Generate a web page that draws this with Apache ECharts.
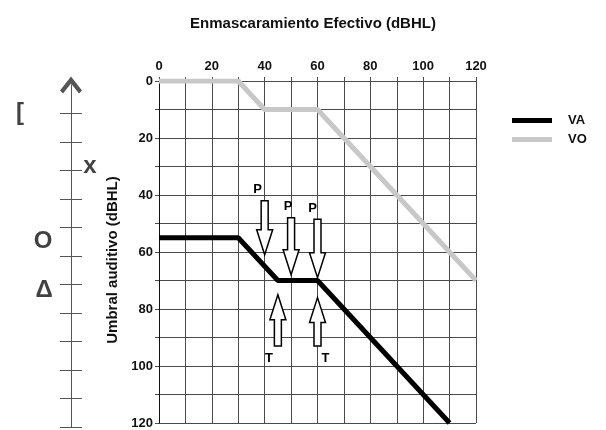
<!DOCTYPE html>
<html>
<head>
<meta charset="utf-8">
<script src="https://cdn.jsdelivr.net/npm/echarts@6/dist/echarts.min.js"></script>
<style>html,body{margin:0;padding:0;background:#fff}#c{width:606px;height:430px}</style>
</head>
<body>
<div id="c"></div>
<script>
// ---- data ----
const xTickLabels = [0, 20, 40, 60, 80, 100, 120];
const yTickLabels = [0, 20, 40, 60, 80, 100, 120];
const seriesNames = ['VA', 'VO'];
const vaMasking = [0, 30, 45, 60, 110];
const vaThreshold = [55, 55, 70, 70, 120];
const voMasking = [0, 30, 40, 60, 120];
const voThreshold = [0, 0, 10, 10, 70];
// arrows: [masking, tail level, tip level]
const arrowP = [[40, 42, 61], [50, 48, 68], [60, 48.5, 69]];
const arrowT = [[45, 93, 75], [60, 93, 76]];
// left audiometric symbol scale
const leftScaleTicks = [10, 20, 30, 40, 50, 60, 70, 80, 90, 100, 110, 120];
// [horizontal position, level, glyph]
const leftGlyphs = [[-51, 10, '['], [19, 28.5, 'x'], [-28, 55, 'O'], [-27, 72, 'Δ']];

const FONT = '"Liberation Sans", Arial, sans-serif';
const zip = (a, b) => a.map((v, i) => [v, b[i]]);
const CHEVRON = 'path://M0,14 L11,0 L22,14 L19,17 L11,7 L3,17 Z';

function arrowRenderer(letter, dxList, dy) {
  return function (params, api) {
    const x = api.value(0);
    const tail = api.coord([x, api.value(1)]);
    const tip = api.coord([x, api.value(2)]);
    const cx = tail[0];
    const dir = tip[1] > tail[1] ? 1 : -1;
    const headLen = 25, headW = 8, shaftW = 3.5;
    const base = tip[1] - dir * headLen;
    const pts = [[cx - shaftW, tail[1]], [cx + shaftW, tail[1]], [cx + shaftW, base],
      [cx + headW, base], [cx, tip[1]], [cx - headW, base], [cx - shaftW, base]];
    const dx = dxList[params.dataIndex] || 0;
    return {
      type: 'group',
      children: [
        { type: 'polygon', shape: { points: pts }, style: { fill: '#fff', stroke: '#000', lineWidth: 1.5 } },
        { type: 'text', style: { text: letter, x: cx + dx, y: tail[1] + dy, align: 'center', verticalAlign: 'middle',
          font: 'bold 13px ' + FONT, fill: '#000' } }
      ]
    };
  };
}

const chart = echarts.init(document.getElementById('c'));
chart.setOption({
  animation: false,
  backgroundColor: '#fff',
  title: {
    text: 'Enmascaramiento Efectivo (dBHL)', left: 308, textAlign: 'center', top: 11,
    textStyle: { fontFamily: FONT, fontWeight: 'bold', fontSize: 15, color: '#111' }
  },
  legend: {
    data: seriesNames, orient: 'vertical', left: 507, top: 109, itemWidth: 40, itemHeight: 5, itemGap: 6,
    icon: 'rect',
    textStyle: { fontFamily: FONT, fontWeight: 'bold', fontSize: 13, color: '#111', padding: [0, 0, 0, 11] }
  },
  grid: [
    { left: 159, right: 130, top: 81, bottom: 7 },
    { left: 0, width: 100, top: 85, bottom: 3 }
  ],
  xAxis: [
    {
      gridIndex: 0, type: 'value', position: 'top', min: 0, max: 120, interval: 10,
      axisLine: { show: true, lineStyle: { color: '#4a4a4a' } },
      axisTick: { show: true, length: 4, lineStyle: { color: '#4a4a4a' } },
      axisLabel: {
        fontFamily: FONT, fontWeight: 'bold', fontSize: 13, color: '#111', margin: 8,
        formatter: v => xTickLabels.includes(v) ? String(v) : ''
      },
      splitLine: { show: true, lineStyle: { color: '#4a4a4a', width: 1 } }
    },
    {
      gridIndex: 1, type: 'value', min: -71, max: 29, show: false
    }
  ],
  yAxis: [
    {
      gridIndex: 0, type: 'value', inverse: true, min: 0, max: 120, interval: 10,
      name: 'Umbral auditivo (dBHL)', nameLocation: 'middle', nameGap: 36, nameRotate: 90,
      nameTextStyle: { fontFamily: FONT, fontWeight: 'bold', fontSize: 15, color: '#111', padding: [0, 16, 0, 0] },
      axisLine: { show: true, lineStyle: { color: '#111' } },
      axisTick: { show: true, length: 4, lineStyle: { color: '#4a4a4a' } },
      axisLabel: {
        fontFamily: FONT, fontWeight: 'bold', fontSize: 13, color: '#111', margin: 6,
        formatter: v => yTickLabels.includes(v) ? String(v) : ''
      },
      splitLine: { show: true, lineStyle: { color: '#4a4a4a', width: 1 } }
    },
    {
      gridIndex: 1, type: 'value', inverse: true, min: 0, max: 120, interval: 10, position: 'left',
      axisLine: { show: true, onZero: true, onZeroAxisIndex: 1, lineStyle: { color: '#555', width: 1 },
        symbol: ['none', CHEVRON], symbolSize: [22, 17], symbolOffset: [0, 0] },
      axisTick: { show: true, length: 11, inside: true, customValues: leftScaleTicks, lineStyle: { color: '#555' } },
      axisLabel: { show: false }, splitLine: { show: false }
    },
    {
      gridIndex: 1, type: 'value', inverse: true, min: 0, max: 120, interval: 10, position: 'left', offset: 0,
      axisLine: { show: true, onZero: true, onZeroAxisIndex: 1, lineStyle: { color: '#555', width: 1 } },
      axisTick: { show: true, length: 11, inside: false, customValues: leftScaleTicks, lineStyle: { color: '#555' } },
      axisLabel: { show: false }, splitLine: { show: false }
    }
  ],
  series: [
    {
      name: 'VA', type: 'line', xAxisIndex: 0, yAxisIndex: 0, data: zip(vaMasking, vaThreshold),
      symbol: 'none', lineStyle: { color: '#000', width: 5 }, itemStyle: { color: '#000' }, z: 3
    },
    {
      name: 'VO', type: 'line', xAxisIndex: 0, yAxisIndex: 0, data: zip(voMasking, voThreshold),
      symbol: 'none', lineStyle: { color: '#c8c8c8', width: 5 }, itemStyle: { color: '#c8c8c8' }, z: 2
    },
    {
      type: 'custom', xAxisIndex: 0, yAxisIndex: 0, data: arrowP, z: 5,
      renderItem: arrowRenderer('P', [-7, -3, -5], -11)
    },
    {
      type: 'custom', xAxisIndex: 0, yAxisIndex: 0, data: arrowT, z: 5,
      renderItem: arrowRenderer('T', [-9, 8], 12)
    },
    {
      type: 'scatter', xAxisIndex: 1, yAxisIndex: 1, data: leftGlyphs, symbolSize: 0,
      label: { show: true, position: 'inside', formatter: p => p.value[2],
        fontFamily: FONT, fontWeight: 'bold', fontSize: 24, color: '#111' }
    }
  ]
});
</script>
</body>
</html>
